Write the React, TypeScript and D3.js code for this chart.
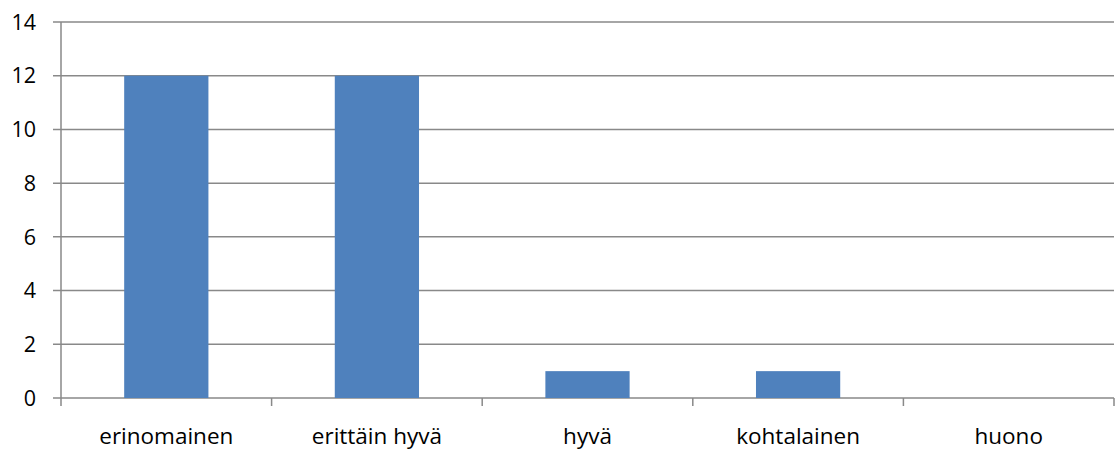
import React from "react";
import * as d3 from "d3";

const categories = ["erinomainen", "erittäin hyvä", "hyvä", "kohtalainen", "huono"];
const values = [12, 12, 1, 1, 0];
const yTicks = [0, 2, 4, 6, 8, 10, 12, 14];

const W = 1115;
const H = 460;
const left = 61;
const right = 1114;
const top = 22;
const bottom = 398;

export default function App() {
  const x = d3.scaleBand<string>().domain(categories).range([left, right]).padding(0);
  const y = d3.scaleLinear().domain([0, 14]).range([bottom, top]);
  const bw = x.bandwidth() * 0.4;
  const font = "'Open Sans', 'Noto Sans', sans-serif";
  return (
    <svg width={W} height={H} style={{ position: "absolute", left: 0, top: 0, background: "#fff" }}>
      {yTicks.map((t) => (
        <g key={t}>
          <line x1={left - 8} x2={right} y1={y(t)} y2={y(t)} stroke="#898989" strokeWidth={1.5} />
          <text x={36} y={y(t)} dy="0.36em" textAnchor="end" fontFamily={font} fontSize={21.5} fill="#000">
            {t}
          </text>
        </g>
      ))}
      {categories.map((c, i) => (
        <rect key={c} x={(x(c) as number) + x.bandwidth() * 0.3} width={bw} y={y(values[i])} height={bottom - y(values[i])} fill="#4F81BD" />
      ))}
      <line x1={left} x2={left} y1={top} y2={bottom + 8} stroke="#898989" strokeWidth={1.5} />
      {categories.map((c) => (
        <line key={"t" + c} x1={(x(c) as number) + x.bandwidth()} x2={(x(c) as number) + x.bandwidth()} y1={bottom} y2={bottom + 8} stroke="#898989" strokeWidth={1.5} />
      ))}
      {categories.map((c) => (
        <text key={"l" + c} x={(x(c) as number) + x.bandwidth() / 2} y={444} textAnchor="middle" fontFamily={font} fontSize={22.5} fill="#000">
          {c}
        </text>
      ))}
    </svg>
  );
}
